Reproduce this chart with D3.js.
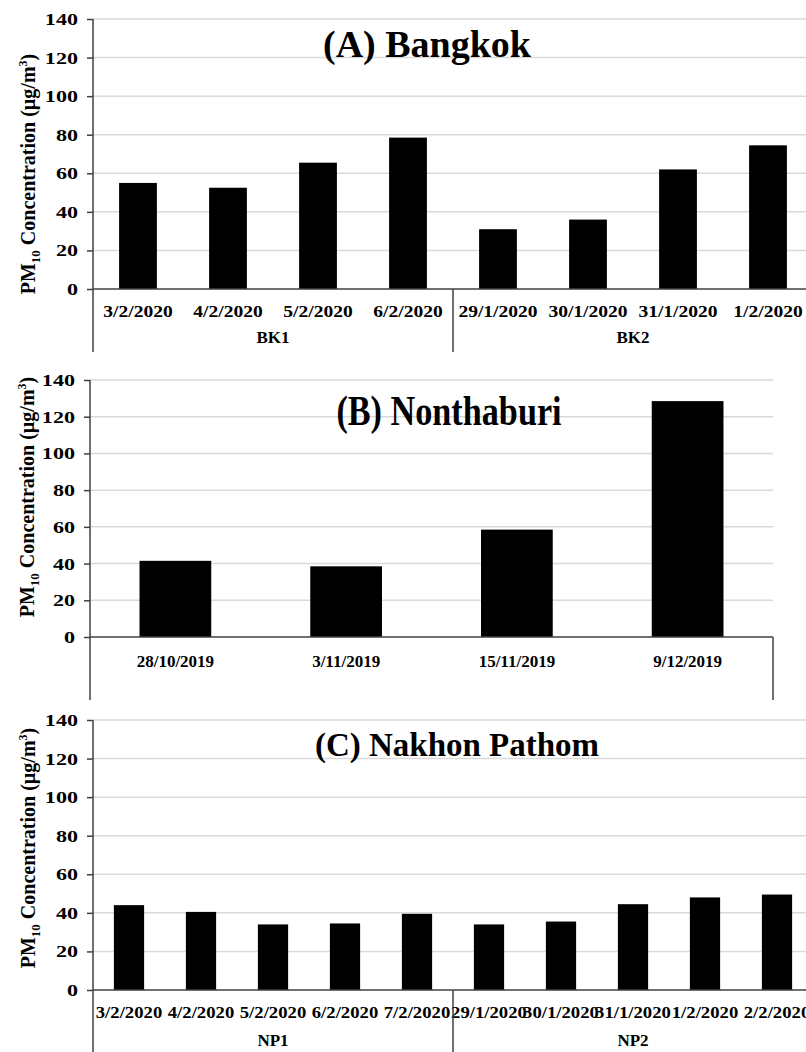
<!DOCTYPE html>
<html>
<head>
<meta charset="utf-8">
<script src="https://cdn.jsdelivr.net/npm/d3@7/dist/d3.min.js"></script>
<style>
  body { margin: 0; background: #fff; }
  svg { display: block; font-family: "Liberation Serif", "Times New Roman", serif; font-weight: bold; }
</style>
</head>
<body>
<div id="chart"></div>
<script>
// data
var bkDates = ["3/2/2020", "4/2/2020", "5/2/2020", "6/2/2020", "29/1/2020", "30/1/2020", "31/1/2020", "1/2/2020"];
var bkValues = [55, 52.5, 65.5, 78.5, 31, 36, 62, 74.5];
var bkSites = ["BK1", "BK2"];
var bkSiteSizes = [4, 4];

var ntDates = ["28/10/2019", "3/11/2019", "15/11/2019", "9/12/2019"];
var ntValues = [41.5, 38.5, 58.5, 128.5];

var npDates = ["3/2/2020", "4/2/2020", "5/2/2020", "6/2/2020", "7/2/2020", "29/1/2020", "30/1/2020", "31/1/2020", "1/2/2020", "2/2/2020"];
var npValues = [44, 40.5, 34, 34.5, 39.5, 34, 35.5, 44.5, 48, 49.5];
var npSites = ["NP1", "NP2"];
var npSiteSizes = [5, 5];

var yTicks = [0, 20, 40, 60, 80, 100, 120, 140];

var W = 806, H = 1052;
var svg = d3.select("#chart").append("svg")
  .attr("width", W).attr("height", H);

function drawPanel(o) {
  var g = svg.append("g");
  var x = d3.scaleBand()
    .domain(o.dates)
    .range([o.left, o.right])
    .paddingInner(0.58)
    .paddingOuter(0.29);
  var y = d3.scaleLinear().domain([0, 140]).range([o.bottom, o.top]);

  // gridlines
  g.selectAll("line.grid")
    .data(yTicks.slice(1))
    .enter().append("line")
    .attr("x1", o.left).attr("x2", o.right)
    .attr("y1", function(d) { return y(d); })
    .attr("y2", function(d) { return y(d); })
    .attr("stroke", "#d9d9d9").attr("stroke-width", 1.5);

  // bars
  g.selectAll("rect")
    .data(o.values)
    .enter().append("rect")
    .attr("x", function(d, i) { return x(o.dates[i]); })
    .attr("width", x.bandwidth())
    .attr("y", function(d) { return y(d); })
    .attr("height", function(d) { return y(0) - y(d); })
    .attr("fill", "#000");

  // y axis
  var yAxis = g.append("g")
    .attr("transform", "translate(" + o.left + ",0)")
    .call(d3.axisLeft(y).tickValues(yTicks).tickSize(6).tickPadding(0));
  yAxis.select(".domain").remove();
  yAxis.selectAll(".tick line").attr("stroke", "#404040").attr("stroke-width", 1.5);
  yAxis.selectAll("text")
    .attr("x", null)
    .attr("transform", "translate(-15,0) scale(1.3,1)")
    .attr("font-size", 17).attr("fill", "#000")
    .style("font-family", "Liberation Serif").style("font-weight", "bold");
  g.append("line")
    .attr("x1", o.left).attr("x2", o.left)
    .attr("y1", o.top).attr("y2", o.lineBottom)
    .attr("stroke", "#404040").attr("stroke-width", 1.5);

  // x axis
  g.append("line")
    .attr("x1", o.left).attr("x2", o.right)
    .attr("y1", o.bottom).attr("y2", o.bottom)
    .attr("stroke", "#404040").attr("stroke-width", 1.5);
  g.selectAll("text.cat")
    .data(o.dates)
    .enter().append("text")
    .attr("class", "cat")
    .attr("transform", function(d) {
      return "translate(" + (x(d) + x.bandwidth() / 2) + "," + o.catY + ") scale(" + o.catStretch + ",1)";
    })
    .attr("text-anchor", "middle")
    .attr("font-size", o.catSize)
    .text(function(d) { return d; });

  // group separators and labels
  var step = x.step();
  if (o.sites) {
    var start = 0;
    o.sites.forEach(function(s, k) {
      var x0 = o.left + start * step;
      var x1 = o.left + (start + o.siteSizes[k]) * step;
      if (k > 0) {
        g.append("line")
          .attr("x1", x0).attr("x2", x0)
          .attr("y1", o.bottom).attr("y2", o.lineBottom)
          .attr("stroke", "#404040").attr("stroke-width", 1.5);
      }
      g.append("text")
        .attr("x", (x0 + x1) / 2)
        .attr("y", o.siteY)
        .attr("text-anchor", "middle")
        .attr("font-size", 17)
        .text(s);
      start += o.siteSizes[k];
    });
  } else {
    g.append("line")
      .attr("x1", o.right).attr("x2", o.right)
      .attr("y1", o.bottom).attr("y2", o.lineBottom)
      .attr("stroke", "#404040").attr("stroke-width", 1.5);
  }

  // title
  g.append("text")
    .attr("transform", "translate(" + o.titleX + "," + o.titleY + ") scale(" + o.titleScale + ")")
    .attr("text-anchor", "middle")
    .attr("font-size", o.titleSize)
    .text(o.title);

  // y label
  var yl = g.append("text")
    .attr("transform", "translate(" + o.labelX + "," + o.labelY + ") rotate(-90)")
    .attr("text-anchor", "middle")
    .attr("font-size", 20);
  yl.append("tspan").text("PM");
  yl.append("tspan").attr("font-size", 13).attr("dy", 5).text("10");
  yl.append("tspan").attr("dy", -5).text(" Concentration (µg/m");
  yl.append("tspan").attr("font-size", 12).attr("dy", -8).text("3");
  yl.append("tspan").attr("dy", 8).text(")");
}

drawPanel({
  dates: bkDates, values: bkValues, sites: bkSites, siteSizes: bkSiteSizes,
  left: 93, right: 813, top: 19, bottom: 289, lineBottom: 352,
  catY: 317, catSize: 17, catStretch: 1.15, siteY: 343,
  title: "(A) Bangkok", titleX: 427, titleY: 57, titleSize: 38, titleScale: "1,1",
  labelX: 35, labelY: 174
});

drawPanel({
  dates: ntDates, values: ntValues,
  left: 90, right: 773, top: 380, bottom: 637, lineBottom: 700,
  catY: 667, catSize: 17, catStretch: 1.0,
  title: "(B) Nonthaburi", titleX: 449, titleY: 425, titleSize: 36, titleScale: "0.95,1.15",
  labelX: 34, labelY: 497
});

drawPanel({
  dates: npDates, values: npValues, sites: npSites, siteSizes: npSiteSizes,
  left: 93, right: 813, top: 720, bottom: 990, lineBottom: 1052,
  catY: 1018, catSize: 17, catStretch: 1.1, siteY: 1046,
  title: "(C) Nakhon Pathom", titleX: 457, titleY: 756, titleSize: 33, titleScale: "1,1",
  labelX: 35, labelY: 848
});
</script>
</body>
</html>
